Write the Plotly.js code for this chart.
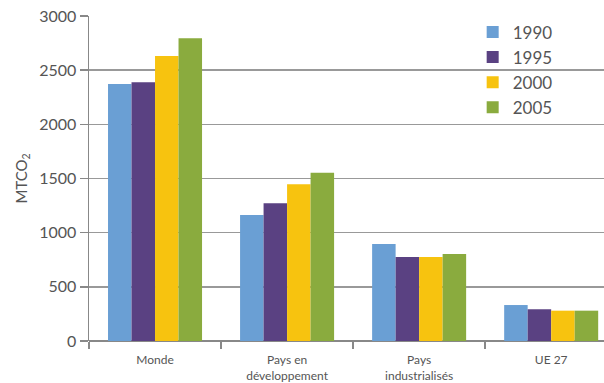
<!DOCTYPE html>
<html><head><meta charset="utf-8">
<script src="https://cdn.plot.ly/plotly-3.0.1.min.js"></script>
<style>html,body{margin:0;padding:0;background:#fff;overflow:hidden}</style>
</head><body><div id="chart" style="width:604px;height:383px"></div>
<script>
const categories = ["Monde", "Pays en<br>développement", "Pays<br>industrialisés", "UE 27"];
const years = ["1990", "1995", "2000", "2005"];
const v1990 = [2372, 1163, 895, 332];
const v1995 = [2388, 1271, 775, 293];
const v2000 = [2631, 1446, 775, 280];
const v2005 = [2794, 1554, 803, 280];
const colors = ["#6a9fd4", "#5a4182", "#f7c30f", "#8aab3e"];
const series = [v1990, v1995, v2000, v2005];
const xpos = categories.map((c, i) => i);
const bounds = categories.map((c, i) => i - 0.5);

const traces = series.map((vals, k) => ({
  type: "bar", name: years[k], x: xpos, y: vals,
  marker: {color: colors[k]}, hoverinfo: "skip"
}));

const layout = {
  width: 604, height: 383,
  margin: {l: 89, r: 0, t: 16, b: 42},
  paper_bgcolor: "#fff", plot_bgcolor: "#fff",
  barmode: "group", bargap: 0.288, bargroupgap: 0,
  font: {family: "Lato, 'Open Sans', sans-serif", color: "#555"},
  xaxis: {
    range: [-0.5, 3.4], tickvals: xpos, ticktext: categories,
    ticks: "", showgrid: false, zeroline: false,
    showline: false, tickfont: {size: 12, color: "#555"},
    ticklabelstandoff: 10,
    minor: {tickvals: bounds, ticks: "outside", ticklen: 7, tickcolor: "#888", tickwidth: 1.5, showgrid: false}
  },
  yaxis: {
    range: [0, 3000], tickvals: [0, 500, 1000, 1500, 2000, 2500, 3000],
    ticks: "outside", ticklen: 8, tickcolor: "#888", tickwidth: 1.5,
    showgrid: true, gridcolor: "#999", gridwidth: 1.5,
    showline: true, linecolor: "#888", linewidth: 1.5,
    zeroline: true, zerolinecolor: "#888", zerolinewidth: 1.5,
    tickfont: {size: 16, color: "#555"},
    title: {text: "MTCO<sub>2</sub>", font: {size: 15, color: "#555"}, standoff: 8}
  },
  legend: {
    x: 0.745, y: 1.005, xanchor: "left", yanchor: "top",
    bgcolor: "rgba(255,255,255,0)", font: {size: 17, color: "#555"},
    tracegroupgap: 0, itemwidth: 30
  },
  showlegend: true
};
Plotly.newPlot("chart", traces, layout, {displayModeBar: false, staticPlot: true});
</script></body></html>
